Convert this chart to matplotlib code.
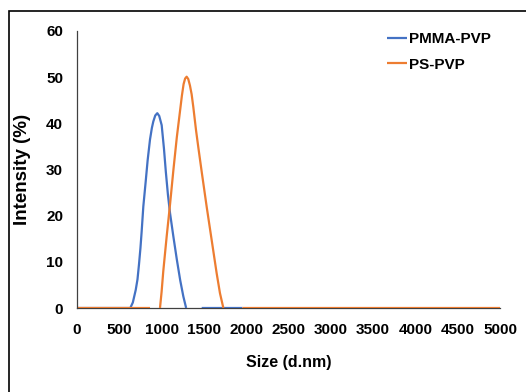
import numpy as np
import matplotlib
matplotlib.use("Agg")
import matplotlib.pyplot as plt
from matplotlib.patches import Rectangle

plt.rcParams['font.family'] = ['Liberation Sans', 'DejaVu Sans']

# PMMA-PVP size distribution (NaN = gap in the drawn line)
pmma_x = [0, 300, 630, 660, 694, 715, 733, 750, 764, 784, 812, 835, 863, 885, 902, 925, 949,
          972, 1001, 1028, 1050, 1075, 1100, 1139, 1180, 1220, 1257, 1290,
          np.nan, 1474, 1700, 1955]
pmma_y = [0, 0, 0, 1.2, 3.9, 6.2, 9.5, 13.0, 16.5, 22.0, 27.4, 32.0, 36.5, 39.0, 40.4, 41.7, 42.2,
          41.6, 39.6, 34.5, 29.5, 24.5, 20.5, 15.5, 10.5, 6.0, 2.5, 0,
          np.nan, 0, 0, 0]

# PS-PVP size distribution
ps_x = [0, 400, 863, np.nan, 981, 1000, 1020, 1060, 1100, 1140, 1180, 1220, 1240, 1260, 1278,
        1296, 1315, 1335, 1355, 1375, 1407, 1434, 1474, 1533, 1592, 1651, 1690, 1730,
        np.nan, 1955, 3000, 5000]
ps_y = [0, 0, 0, np.nan, 0, 3.5, 8.0, 15.5, 22.5, 30.0, 37.0, 43.0, 46.0, 48.5, 49.7,
        50.1, 49.6, 48.2, 46.3, 43.5, 38.5, 34.8, 29.5, 21.9, 14.7, 7.5, 3.2, 0,
        np.nan, 0, 0, 0]

x_ticks = [0, 500, 1000, 1500, 2000, 2500, 3000, 3500, 4000, 4500, 5000]
y_ticks = [0, 10, 20, 30, 40, 50, 60]

fig = plt.figure(figsize=(5.26, 3.92), dpi=100)
ax = fig.add_axes([77/526, 1-308/392, 423/526, 277/392])

ax.plot(pmma_x, pmma_y, color='#4472C4', lw=1.6, label='PMMA-PVP',
        solid_capstyle='butt', solid_joinstyle='round')
ax.plot(ps_x, ps_y, color='#ED7D31', lw=1.6, label='PS-PVP',
        solid_capstyle='butt', solid_joinstyle='round')

ax.set_xlim(0, 5000)
ax.set_ylim(0, 60)
ax.set_xticks(x_ticks)
ax.set_yticks(y_ticks)
for s in ['top', 'right']:
    ax.spines[s].set_visible(False)
ax.spines['left'].set_color('#404040')
ax.spines['left'].set_linewidth(0.9)
ax.spines['bottom'].set_color('#404040')
ax.spines['bottom'].set_linewidth(0.9)
ax.spines['bottom'].set_zorder(0)
ax.tick_params(axis='both', length=0, labelsize=11)
ax.tick_params(axis='y', pad=10)
ax.tick_params(axis='x', pad=11)
for lab in ax.get_xticklabels() + ax.get_yticklabels():
    lab.set_fontweight('bold')

ax.set_xlabel('Size (d.nm)', fontsize=11.5, fontweight='bold', labelpad=13)
ax.set_ylabel('Intensity (%)', fontsize=13.5, fontweight='bold', labelpad=11)

leg = ax.legend(loc='upper right', bbox_to_anchor=(1.01, 1.045), frameon=False,
                prop={'weight': 'bold', 'size': 11}, handlelength=1.3,
                handletextpad=0.1, labelspacing=0.75)

fig.patches.append(Rectangle((9/526, -0.05), 1.2, 1 - 10.5/392 + 0.05,
                             transform=fig.transFigure, fill=False,
                             edgecolor='black', lw=1.2))

fig.savefig('out.png', dpi=100)
